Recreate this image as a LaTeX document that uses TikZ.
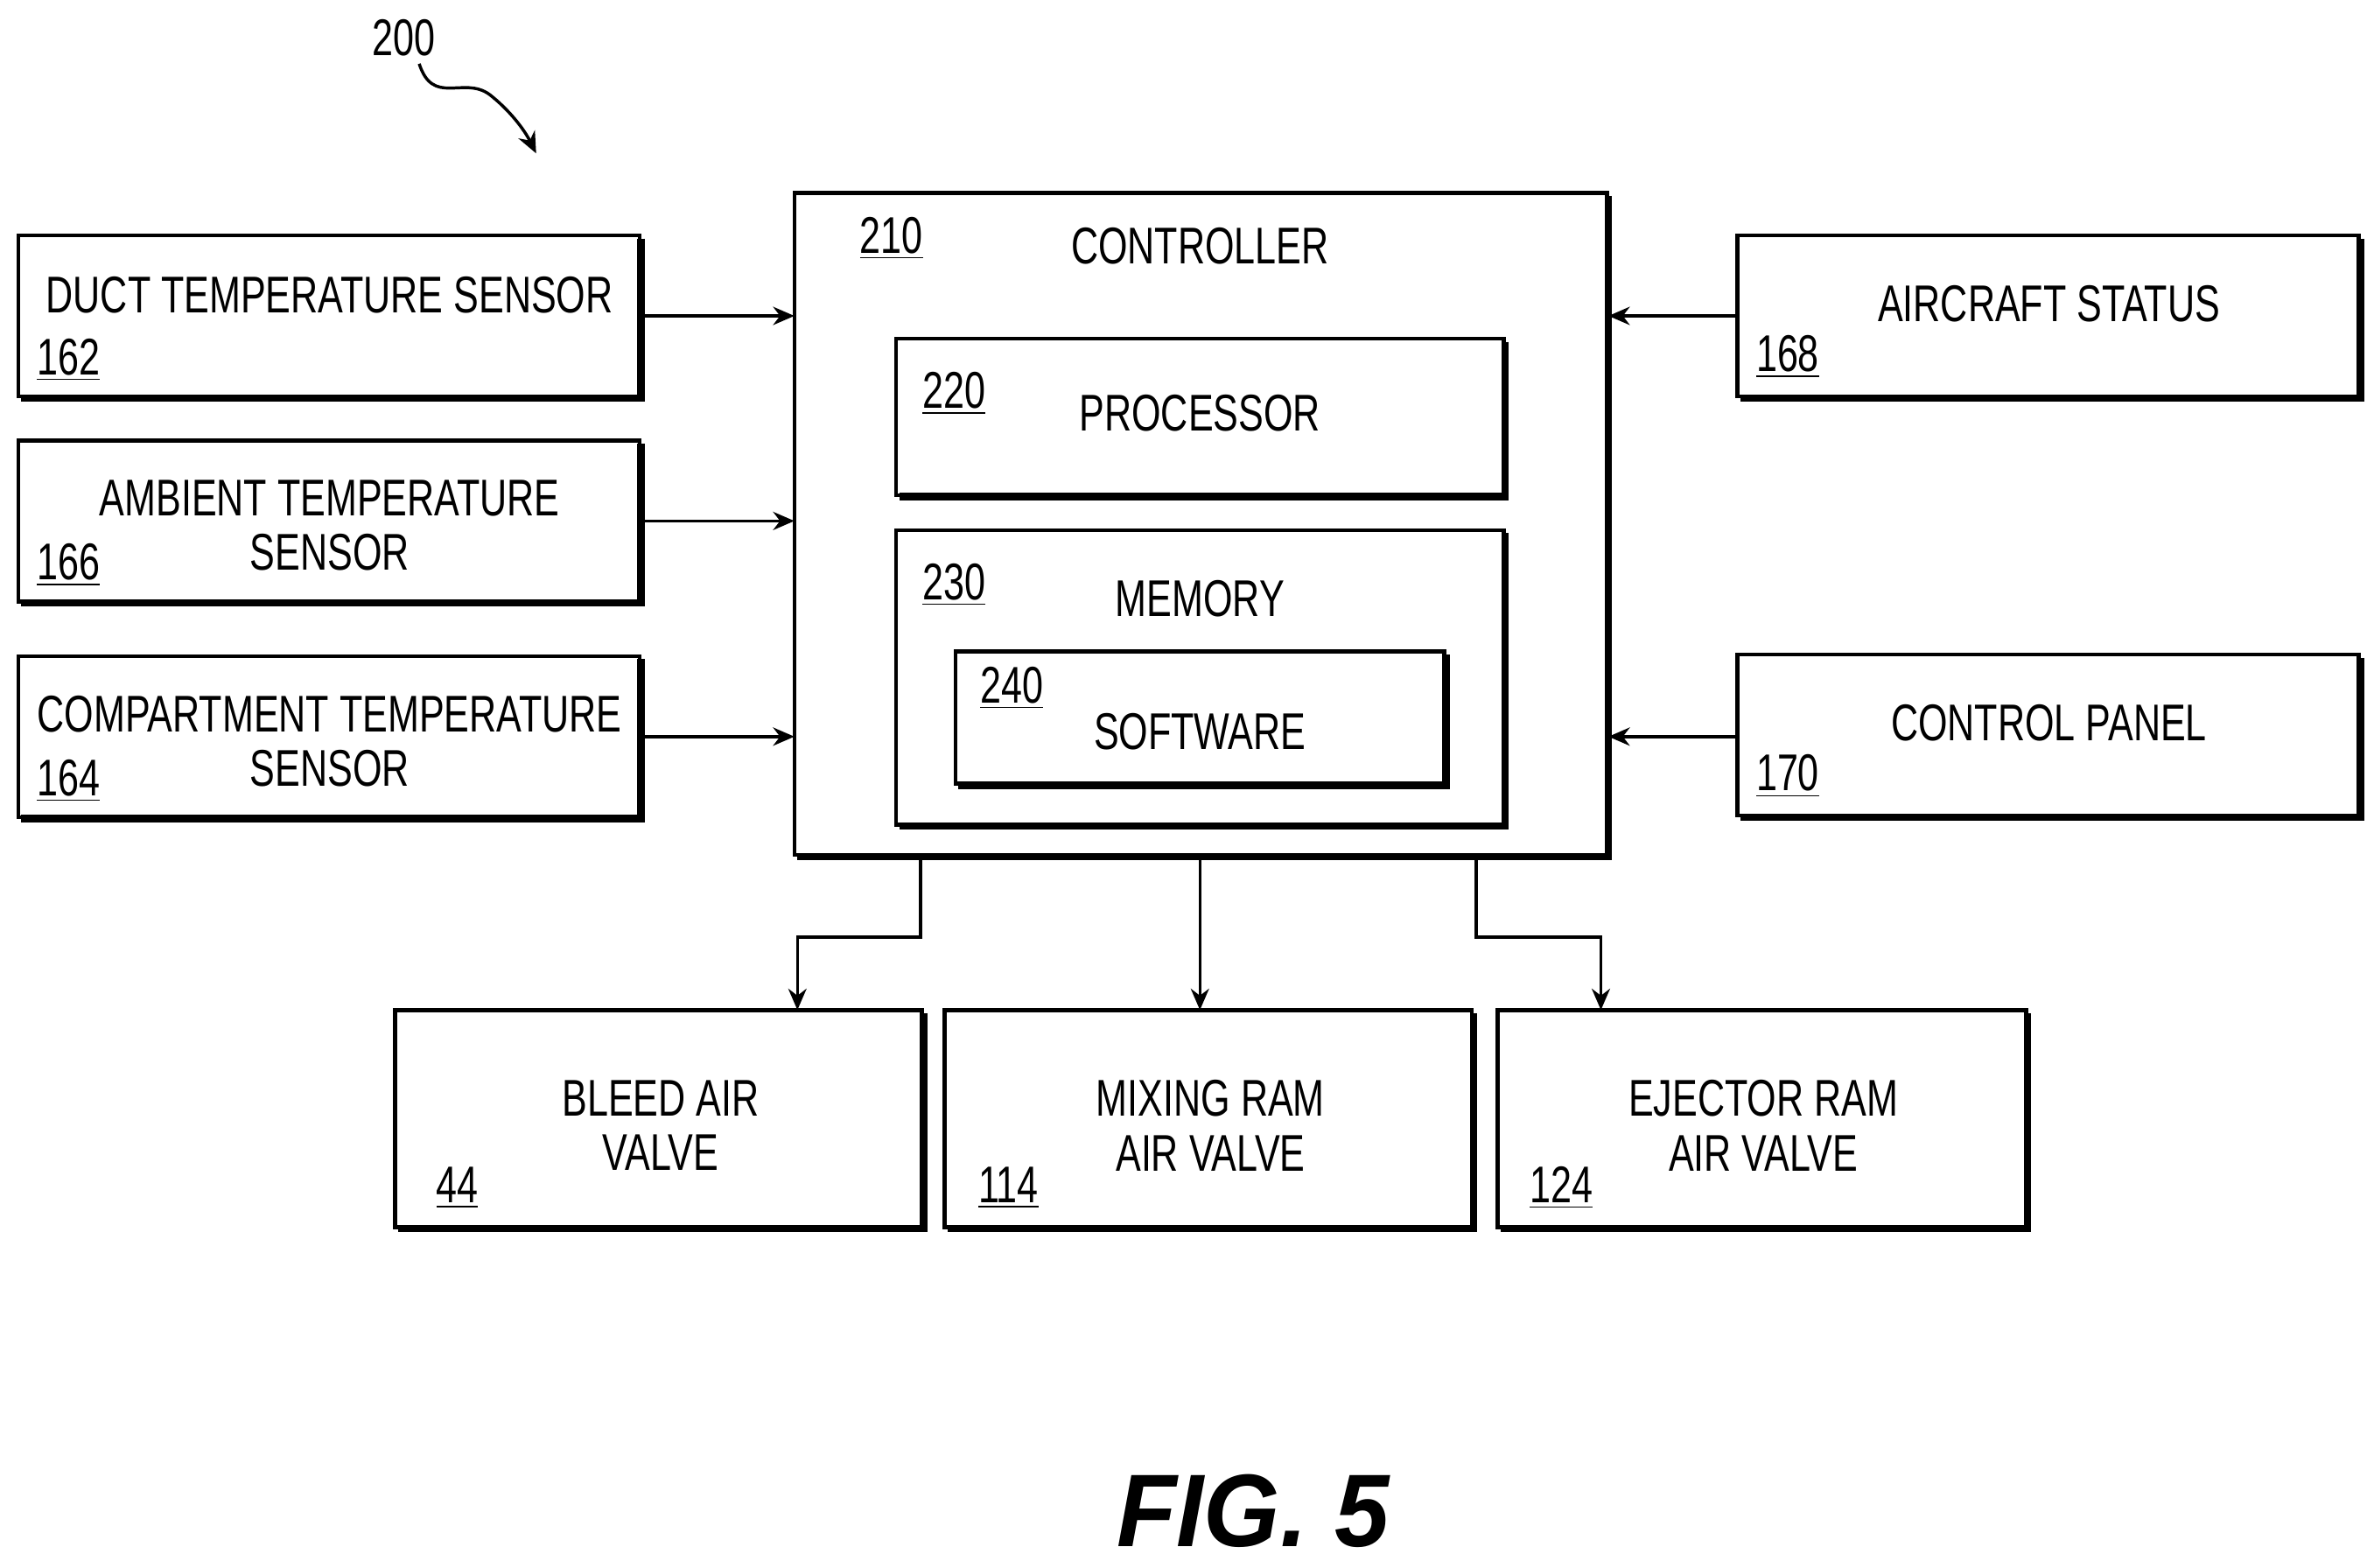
\documentclass[tikz,border=0pt]{standalone}
\usepackage{fontspec}
\setmainfont{Liberation Sans}[FakeStretch=0.73]
\newfontfamily\figfont{Liberation Sans}[FakeStretch=0.95]
\usetikzlibrary{arrows.meta}
\begin{document}
\begin{tikzpicture}[x=0.5pt,y=-0.5pt,
  bx/.style={draw,line width=1.3pt},
  sh/.style={line width=2.4pt},
  arr/.style={-{Stealth[length=7pt,width=6pt]},line width=1pt},
  t/.style={font=\fontsize{17}{19}\selectfont,align=center,inner sep=0},
  n/.style={font=\fontsize{17}{19}\selectfont,inner sep=0}]
\useasboundingbox (0,0) rectangle (1563,1032);
\newcommand{\shbox}[5]{% name x1 y1 x2 y2
  \draw[bx] (#2,#3) rectangle (#4,#5);
  \draw[sh] (#4+1,#3+2) -- (#4+1,#5+1) -- (#2+2,#5+1);
  \coordinate (#1-nw) at (#2,#3); \coordinate (#1-se) at (#4,#5);}
\shbox{duct}{12}{155}{421}{261}
\shbox{amb}{12}{290}{421}{396}
\shbox{comp}{12}{432}{421}{538}
\shbox{ctl}{523}{127}{1058}{563}
\shbox{proc}{590}{223}{990}{326}
\shbox{mem}{590}{349}{990}{543}
\shbox{sw}{629}{429}{951}{516}
\shbox{air}{1144}{155}{1553}{261}
\shbox{cp}{1144}{431}{1553}{537}
\shbox{bleed}{260}{665}{607}{808}
\shbox{mix}{622}{665}{969}{808}
\shbox{ej}{986}{665}{1334}{808}
% texts
\node[t] (tduct) at (217,194) {DUCT TEMPERATURE SENSOR};
\node[n] (nduct) at (45,237) {\underline{162}};
\node[t] (tamb) at (217,346) {AMBIENT TEMPERATURE\\[-1pt]SENSOR};
\node[n] (namb) at (45,372) {\underline{166}};
\node[t] (tcomp) at (217,488) {COMPARTMENT TEMPERATURE\\[-1pt]SENSOR};
\node[n] (ncomp) at (45,514) {\underline{164}};
\node[t] (tctl) at (790,162) {CONTROLLER};
\node[n] (nctl) at (587,157) {\underline{210}};
\node[t] (tproc) at (790,272) {PROCESSOR};
\node[n] (nproc) at (628,259) {\underline{220}};
\node[t] (tmem) at (790,394) {MEMORY};
\node[n] (nmem) at (628,385) {\underline{230}};
\node[t] (tsw) at (790,482) {SOFTWARE};
\node[n] (nsw) at (666,453) {\underline{240}};
\node[t] (tair) at (1349,200) {AIRCRAFT STATUS};
\node[n] (nair) at (1177,235) {\underline{168}};
\node[t] (tcp) at (1349,476) {CONTROL PANEL};
\node[n] (ncp) at (1177,511) {\underline{170}};
\node[t] (tbleed) at (435,741) {BLEED AIR\\[-1pt]VALVE};
\node[n] (nbleed) at (301,782) {\underline{44}};
\node[t] (tmix) at (797,741) {MIXING RAM\\[-1pt]AIR VALVE};
\node[n] (nmix) at (664,782) {\underline{114}};
\node[t] (tej) at (1161,741) {EJECTOR RAM\\[-1pt]AIR VALVE};
\node[n] (nej) at (1028,782) {\underline{124}};
\node[n] (n200) at (266,25) {200};
\node[inner sep=0,font=\figfont\fontsize{34}{38}\selectfont\bfseries\itshape] (fig) at (825,995) {FIG. 5};
% arrows
\draw[arr] (421,208) -- (523,208);
\draw[arr] (421,343) -- (523,343);
\draw[arr] (421,485) -- (523,485);
\draw[arr] (1144,208) -- (1059,208);
\draw[arr] (1144,485) -- (1059,485);
\draw[arr] (606,564) -- (606,617) -- (525,617) -- (525,665);
\draw[arr] (790,564) -- (790,665);
\draw[arr] (972,564) -- (972,617) -- (1054,617) -- (1054,665);
\draw[arr] (276,42) .. controls (285,70) and (305,50) .. (322,62) .. controls (335,72) and (345,85) .. (353,101);
\end{tikzpicture}
\end{document}
